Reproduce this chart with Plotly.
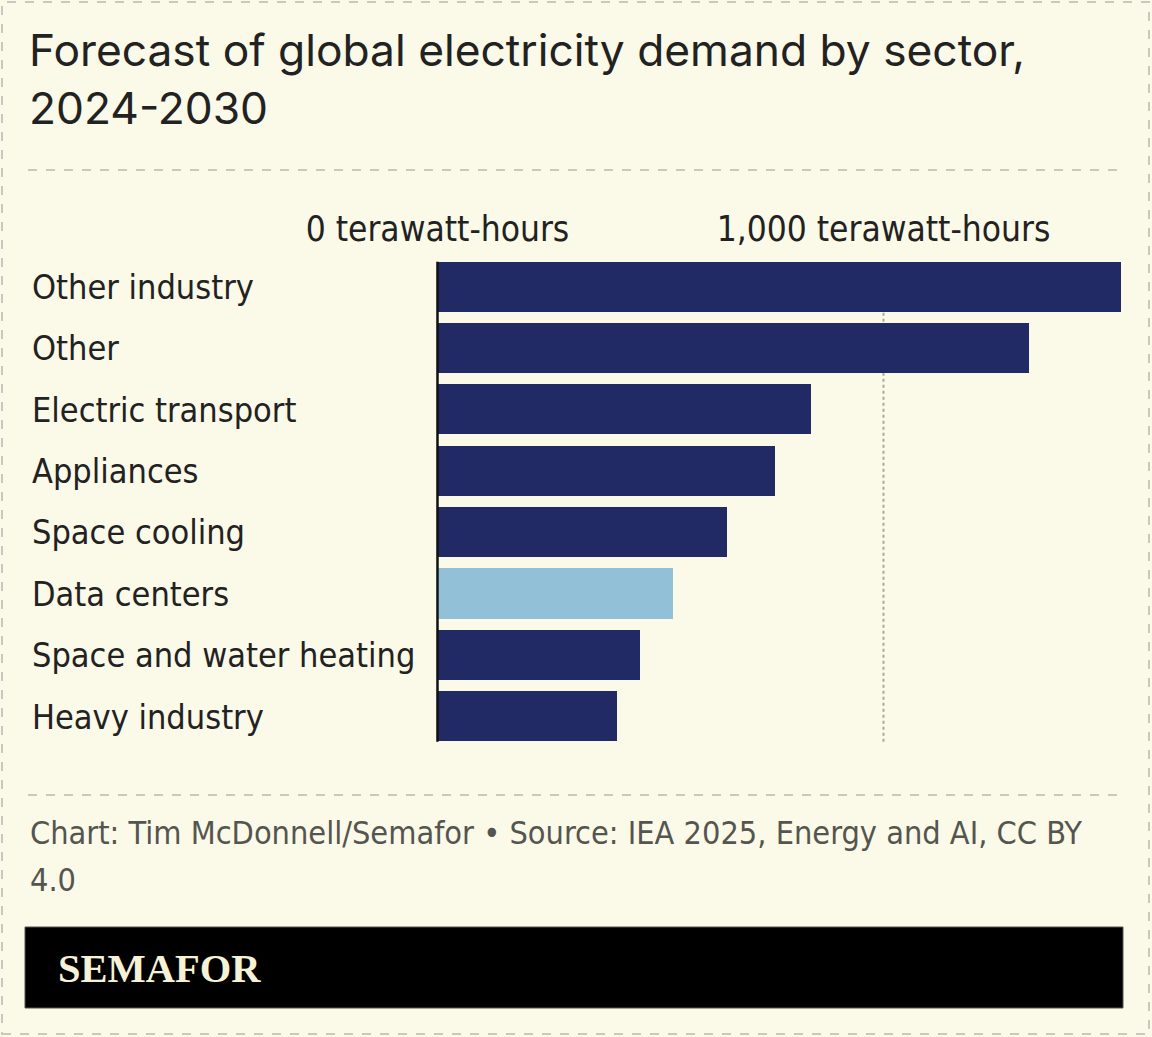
import plotly.graph_objects as go

categories = ["Other industry", "Other", "Electric transport", "Appliances",
              "Space cooling", "Data centers", "Space and water heating", "Heavy industry"]
values_twh = [1532, 1326, 837, 757, 649, 528, 454, 402]
highlight = "Data centers"
tick_values = [0, 1000]
tick_labels = ["0 terawatt-hours", "1,000 terawatt-hours"]

title_text = "Forecast of global electricity demand by sector,<br>2024-2030"
source_line1 = "Chart: Tim McDonnell/Semafor • Source: IEA 2025, Energy and AI, CC BY"
source_line2 = "4.0"
brand = "SEMAFOR"

W, H = 1152, 1037
BG = "#FBF9E7"
NAVY = "#222A66"
LIGHT = "#92C1D7"
COND = "Liberation Sans Narrow, DejaVu Sans Condensed, Arial Narrow, sans-serif"

colors = [LIGHT if c == highlight else NAVY for c in categories]

fig = go.Figure()
fig.add_trace(go.Bar(
    x=values_twh, y=categories, orientation="h",
    marker=dict(color=colors, line=dict(width=0)),
    width=0.815, hoverinfo="x+y", showlegend=False,
))

def px_x(p):
    return p / W

def px_y(p):
    return 1 - p / H

fig.update_layout(
    template="none",
    width=W, height=H,
    paper_bgcolor=BG, plot_bgcolor=BG,
    margin=dict(l=0, r=0, t=0, b=0, pad=0, autoexpand=False),
    xaxis=dict(
        domain=[px_x(420), 1.0], range=[-39.2, 1602], side="top",
        tickvals=tick_values, ticktext=tick_labels, ticks="",
        ticklabelstandoff=7,
        showgrid=False, zeroline=False, showline=False, automargin=False,
        tickfont=dict(family=COND, size=35, color="#222222"),
        fixedrange=True,
    ),
    yaxis=dict(
        domain=[px_y(747.2), px_y(256.3)], range=[7.5, -0.5],
        type="category", showticklabels=False, ticks="", automargin=False,
        showgrid=False, zeroline=False, showline=False, fixedrange=True,
    ),
    bargap=0,
)

shapes = []
# outer dashed border
shapes.append(dict(type="rect", xref="paper", yref="paper",
                   x0=px_x(2), x1=px_x(1149), y0=px_y(1034), y1=px_y(2),
                   line=dict(color="#C9C8BE", width=2, dash="dash"), layer="below"))
# separators
for yy in (170, 795):
    shapes.append(dict(type="line", xref="paper", yref="paper",
                       x0=px_x(28), x1=px_x(1124), y0=px_y(yy), y1=px_y(yy),
                       line=dict(color="#C9C8BE", width=2, dash="dash")))
# grid line at 1000
shapes.append(dict(type="line", xref="x", yref="y", x0=1000, x1=1000, y0=0.42, y1=7.41,
                   line=dict(color="#A8A8A0", width=2, dash="dot"), layer="below"))
# zero line
shapes.append(dict(type="line", xref="x", yref="y", x0=0, x1=0, y0=-0.41, y1=7.41,
                   line=dict(color="#111111", width=2.5), layer="above"))
# brand bar
shapes.append(dict(type="rect", xref="paper", yref="paper",
                   x0=px_x(25), x1=px_x(1123), y0=px_y(1008), y1=px_y(927),
                   fillcolor="#000000", line=dict(color="#555555", width=1)))
fig.update_layout(shapes=shapes)

annotations = []
annotations.append(dict(text=title_text, xref="paper", yref="paper",
                        x=px_x(27), y=px_y(21), xanchor="left", yanchor="top",
                        align="left", showarrow=False,
                        font=dict(family="Inter, Liberation Sans, Arial, sans-serif", size=44.3, color="#222222")))
for c in categories:
    annotations.append(dict(text=c, xref="paper", yref="y", x=px_x(30), y=c,
                            xanchor="left", yanchor="middle", showarrow=False,
                            font=dict(family=COND, size=34, color="#222222")))
annotations.append(dict(text=source_line1, xref="paper", yref="paper",
                        x=px_x(28), y=px_y(833), xanchor="left", yanchor="middle",
                        align="left", showarrow=False,
                        font=dict(family=COND, size=32.2, color="#555550")))
annotations.append(dict(text=source_line2, xref="paper", yref="paper",
                        x=px_x(28), y=px_y(880), xanchor="left", yanchor="middle",
                        align="left", showarrow=False,
                        font=dict(family=COND, size=32.2, color="#555550")))
annotations.append(dict(text="<b>" + brand + "</b>", xref="paper", yref="paper",
                        x=px_x(56), y=px_y(968), xanchor="left", yanchor="middle",
                        showarrow=False,
                        font=dict(family="Liberation Serif, DejaVu Serif, serif", size=40.5, color="#F7F2D6")))
fig.update_layout(annotations=annotations)

fig.write_html("out.html", config={"displayModeBar": False},
               post_script="document.body.style.margin='0';")
